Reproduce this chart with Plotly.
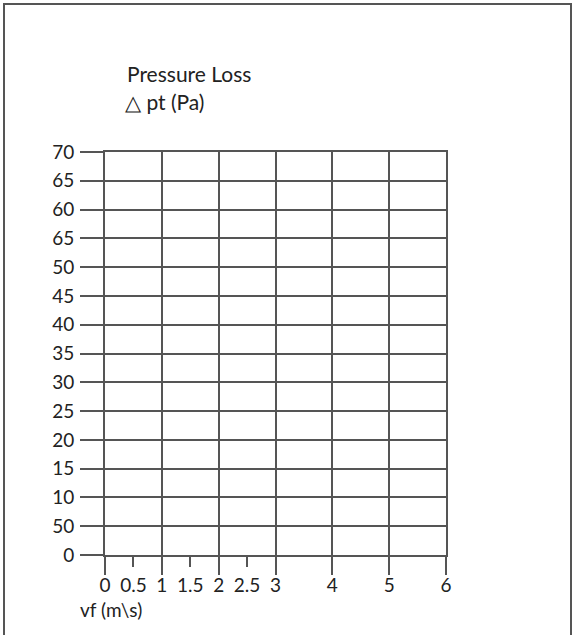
import plotly.graph_objects as go

# ---- data ----
x_major = [0, 1, 2, 3, 4, 5, 6]
x_label_vals = [0, 0.5, 1, 1.5, 2, 2.5, 3, 4, 5, 6]
x_label_text = ["0", "0.5", "1", "1.5", "2", "2.5", "3", "4", "5", "6"]
y_ticks = [0, 5, 10, 15, 20, 25, 30, 35, 40, 45, 50, 55, 60, 65, 70]
y_tick_labels = ["0", "50", "10", "15", "20", "25", "30", "35", "40", "45",
                 "50", "65", "60", "65", "70"]
x_range = [0, 6]
y_range = [0, 70]
title_lines = ["Pressure Loss", "\u25b3 pt (Pa)"]
x_title = "vf (m\\s)"

FONT = "Lato, 'Noto Sans', sans-serif"
LC = "#555555"
FS = 19
FT = 21

W, H = 574, 635
L, R, T, B = 105, 128, 152, 80
pw, ph = W - L - R, H - T - B

def px2x(px):
    return (px - L) / pw

def px2y(py):
    return (H - B - py) / ph

fig = go.Figure()
fig.add_trace(go.Scatter(x=x_range, y=y_range, mode="markers",
                         marker=dict(opacity=0), hoverinfo="skip",
                         showlegend=False, xaxis="x", yaxis="y"))
fig.add_trace(go.Scatter(x=x_range, y=y_range, mode="markers",
                         marker=dict(opacity=0), hoverinfo="skip",
                         showlegend=False, xaxis="x2", yaxis="y"))

fig.update_layout(
    width=W, height=H,
    margin=dict(l=L, r=R, t=T, b=B, pad=0),
    paper_bgcolor="white", plot_bgcolor="white",
    font=dict(family=FONT, size=FS, color="#222222"),
    xaxis=dict(range=x_range, tickmode="array", tickvals=x_major,
               showticklabels=False, ticks="outside", ticklen=18,
               tickwidth=2, tickcolor=LC, showgrid=True, gridcolor=LC,
               gridwidth=2, zeroline=False, showline=True, mirror=True,
               linecolor=LC, linewidth=2),
    xaxis2=dict(range=x_range, overlaying="x", side="bottom",
                tickmode="array", tickvals=x_label_vals, ticktext=x_label_text,
                ticks="outside", ticklen=11, tickwidth=2, tickcolor=LC,
                showgrid=False, zeroline=False, showline=False,
                ticklabelstandoff=2, tickfont=dict(size=FS)),
    yaxis=dict(range=y_range, tickmode="array", tickvals=y_ticks,
               ticktext=y_tick_labels, ticks="outside", ticklen=23,
               tickwidth=2, tickcolor=LC, showgrid=True, gridcolor=LC,
               gridwidth=2, zeroline=False, showline=True, mirror=True,
               linecolor=LC, linewidth=2, ticklabelstandoff=2,
               tickfont=dict(size=FS)),
)

fig.add_annotation(text=title_lines[0], xref="paper", yref="paper",
                   x=px2x(125), y=px2y(73), xanchor="left", yanchor="middle",
                   showarrow=False, font=dict(size=FT))
fig.add_annotation(text=title_lines[1], xref="paper", yref="paper",
                   x=px2x(123), y=px2y(102), xanchor="left", yanchor="middle",
                   showarrow=False, font=dict(size=FT))
fig.add_annotation(text=x_title, xref="paper", yref="paper",
                   x=px2x(78), y=px2y(609), xanchor="left", yanchor="middle",
                   showarrow=False, font=dict(size=FS))

# outer frame (open at the bottom, cropped in the source image)
fig.add_shape(type="rect", xref="paper", yref="paper",
              x0=px2x(4), x1=px2x(571), y0=px2y(645), y1=px2y(4),
              line=dict(color="#555555", width=2), layer="below")

fig.write_html("out.html", config={"displayModeBar": False},
               post_script="document.body.style.margin='0';")
